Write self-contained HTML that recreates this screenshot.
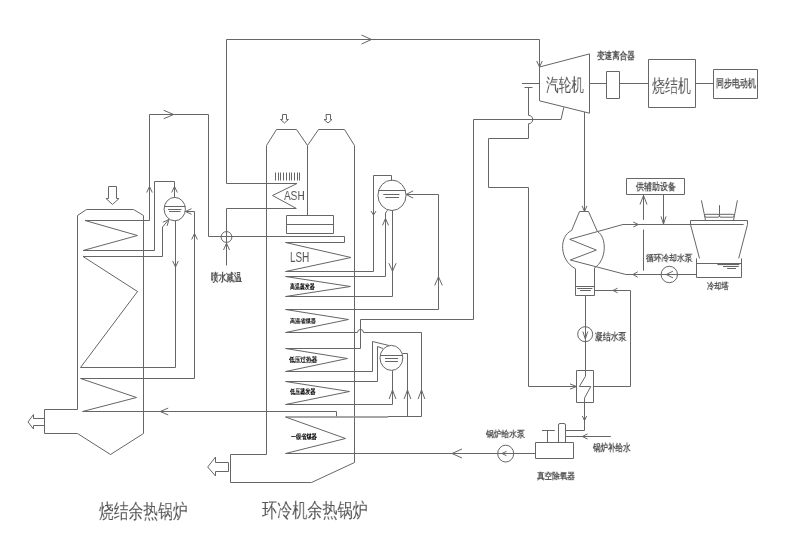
<!DOCTYPE html>
<html><head><meta charset="utf-8"><style>
html,body{margin:0;padding:0;background:#fff;width:789px;height:533px;overflow:hidden}
body{position:relative;font-family:"Liberation Sans",sans-serif}
svg{position:absolute;left:0;top:0}
</style></head><body>
<svg width="789" height="533" viewBox="0 0 789 533" fill="none" stroke="#666" stroke-width="1">
<polyline points="226.50,183.50 226.50,39.50 539.50,39.50 539.50,67.00"/>
<polyline points="361.50,35.00 371.50,39.50 361.50,44.00"/>
<polyline points="536.70,61.00 539.50,67.00 542.30,61.00"/>
<polyline points="226.50,183.50 297.00,183.50"/>
<polyline points="77.50,409.50 77.50,215.50 86.50,209.50 133.50,209.50 143.50,215.50 143.50,433.50 110.50,454.50 77.50,433.50 44.50,433.50 44.50,409.50 77.50,409.50"/>
<polygon points="44.50,418.50 33.50,418.50 33.50,414.50 28.00,422.00 33.50,429.00 33.50,425.50 44.50,425.50"/>
<polygon points="108.50,186.50 116.50,186.50 116.50,198.50 119.00,198.50 112.50,204.50 106.00,198.50 108.50,198.50"/>
<polyline points="149.50,114.50 149.50,220.50 85.00,220.50 137.50,235.50 83.00,250.50 154.50,250.50 154.50,181.50 174.50,181.50 174.50,197.30"/>
<polyline points="146.70,192.50 149.50,186.50 152.30,192.50"/>
<polyline points="171.70,192.50 174.50,186.50 177.30,192.50"/>
<polyline points="149.50,114.50 208.50,114.50 208.50,236.50"/>
<polyline points="163.70,110.30 173.70,114.50 163.70,118.70"/>
<polyline points="168.90,219.50 162.50,227.00 162.50,256.50 83.00,256.50 137.50,291.50 80.50,367.50 175.50,367.50 175.50,220.80"/>
<polyline points="167.15,225.89 168.90,219.50 162.88,222.26"/>
<polyline points="172.70,261.00 175.50,267.00 178.30,261.00"/>
<polyline points="185.50,211.50 194.50,211.50 194.50,378.50 80.50,378.50 136.50,397.50 82.50,411.50 336.50,411.50 336.50,416.50"/>
<polyline points="191.50,208.70 185.50,211.50 191.50,214.30"/>
<polyline points="191.70,239.50 194.50,233.50 197.30,239.50"/>
<polyline points="168.20,408.10 160.20,411.50 168.20,414.90"/>
<ellipse cx="174.75" cy="209.1" rx="10.65" ry="11.7"/>
<polyline points="164.50,206.50 185.50,206.50"/>
<polyline points="168.00,209.50 181.50,209.50"/>
<polyline points="169.00,211.50 180.50,211.50"/>
<ellipse cx="226.5" cy="237" rx="5.4" ry="5.4"/>
<polyline points="208.50,236.50 344.50,236.50 344.50,242.50 285.50,242.50"/>
<polyline points="226.50,265.50 226.50,208.50 296.00,208.50"/>
<polyline points="223.50,250.00 226.50,243.20 229.50,250.00"/>
<polyline points="266.50,454.50 266.50,145.50 276.50,129.50 296.50,129.50 307.50,145.50 318.50,129.50 344.50,129.50 354.50,145.50 354.50,462.50 311.50,482.50 230.50,482.50 230.50,454.50 266.50,454.50"/>
<polyline points="307.50,145.50 307.50,215.50"/>
<polygon points="215.50,462.50 228.50,462.50 228.50,471.50 215.50,471.50 215.50,476.00 207.70,467.00 215.50,457.00"/>
<polygon points="282.50,114.50 286.50,114.50 286.50,119.50 288.50,119.50 284.50,123.00 280.50,119.50 282.50,119.50"/>
<polygon points="326.00,114.50 330.50,114.50 330.50,119.50 332.00,119.50 328.00,123.00 324.00,119.50 326.50,119.50"/>
<polyline points="275.50,172.50 275.50,180.50"/>
<polyline points="278.50,172.50 278.50,180.50"/>
<polyline points="280.50,172.50 280.50,180.50"/>
<polyline points="283.50,172.50 283.50,180.50"/>
<polyline points="286.50,172.50 286.50,180.50"/>
<polyline points="289.50,172.50 289.50,180.50"/>
<polyline points="291.50,172.50 291.50,180.50"/>
<polyline points="294.50,172.50 294.50,180.50"/>
<polyline points="297.50,172.50 297.50,180.50"/>
<polyline points="299.50,172.50 299.50,180.50"/>
<polyline points="297.00,183.50 272.50,195.50 296.50,208.50"/>
<polygon points="286.50,215.50 333.50,215.50 333.50,233.50 286.50,233.50"/>
<polyline points="286.50,224.50 333.50,224.50"/>
<polyline points="285.50,242.50 351.00,257.50 285.50,271.50 373.50,271.50 373.50,175.50 391.50,175.50 391.50,180.70"/>
<polyline points="371.00,211.00 373.50,215.00 376.00,211.00"/>
<polyline points="387.50,210.30 385.50,213.00 385.50,276.50 285.50,276.50 350.50,286.50 285.50,296.50 392.50,296.50 392.50,210.00"/>
<polyline points="382.50,225.40 385.50,218.40 388.50,225.40"/>
<polyline points="388.90,263.20 392.50,271.20 396.10,263.20"/>
<polyline points="406.10,194.50 438.50,194.50 438.50,309.50 285.50,309.50 348.50,319.50 285.50,332.50 357.50,332.50"/>
<polyline points="363.50,332.50 421.50,332.50 421.50,416.50"/>
<path d="M357.5,332.5 A3,3 0 0 1 363.5,332.5"/>
<polyline points="413.10,190.90 406.10,194.50 413.10,198.10"/>
<polyline points="434.70,285.40 438.50,276.80 442.30,285.40"/>
<polyline points="473.50,119.50 473.50,319.50 360.50,319.50 360.50,348.50 285.50,348.50 347.50,358.50 285.50,371.50 372.50,371.50 372.50,341.50 389.00,345.50"/>
<polyline points="383.00,348.50 377.50,346.50 377.50,381.50 285.50,381.50 349.50,391.50 285.50,404.50 392.50,404.50 392.50,370.40"/>
<polyline points="389.10,399.00 392.50,390.00 395.90,399.00"/>
<polyline points="402.50,353.50 407.50,353.50 407.50,416.50"/>
<polyline points="388.00,416.50 421.50,416.50"/>
<line x1="285.5" y1="417" x2="388" y2="417" stroke="#888" stroke-width="1.3"/>
<polyline points="404.10,399.00 407.50,390.00 410.90,399.00"/>
<polyline points="418.10,399.00 421.50,390.00 424.90,399.00"/>
<polyline points="285.50,417.00 345.50,438.50 285.50,453.50 535.50,453.50"/>
<polyline points="462.00,449.00 452.00,453.50 462.00,458.00"/>
<ellipse cx="392" cy="195.3" rx="14.05" ry="15.2"/>
<polyline points="378.30,190.50 405.70,190.50"/>
<polyline points="383.30,194.50 399.50,194.50"/>
<polyline points="385.30,197.50 399.00,197.50"/>
<ellipse cx="391.4" cy="357.9" rx="11.4" ry="12.5"/>
<polyline points="380.30,355.50 402.70,355.50"/>
<polyline points="385.00,358.50 398.00,358.50"/>
<polyline points="385.00,361.50 398.00,361.50"/>
<polygon points="539.50,67.00 589.50,53.90 589.50,113.20 539.50,100.80"/>
<polyline points="522.00,83.50 539.50,83.50"/>
<polyline points="524.50,87.50 532.50,87.50"/>
<polyline points="528.50,87.50 528.50,115.30"/>
<path d="M528.5,115.3 A4.25,4.25 0 0 1 528.5,123.8"/>
<polyline points="528.50,123.80 528.50,138.50 488.50,138.50 488.50,187.50 528.50,187.50 528.50,386.50 576.50,386.50"/>
<polyline points="570.00,383.90 576.50,386.50 570.00,389.10"/>
<polyline points="473.50,119.50 561.00,119.50 563.80,107.30"/>
<polyline points="589.50,83.50 606.50,83.50"/>
<polygon points="606.50,71.50 619.50,71.50 619.50,98.50 606.50,98.50"/>
<polyline points="619.50,83.50 648.50,83.50"/>
<polygon points="648.50,59.50 695.50,59.50 695.50,107.50 648.50,107.50"/>
<polyline points="695.50,83.50 713.50,83.50"/>
<polygon points="713.50,69.50 757.50,69.50 757.50,98.50 713.50,98.50"/>
<polyline points="584.50,112.00 584.50,211.50"/>
<polyline points="582.10,205.90 584.50,211.50 586.90,205.90"/>
<path d="M579.5,211.5 L588.5,211.5 L597.3,231.4 C607,237 607,260 594.5,267.9 L594.5,295.5 L575.5,295.5 L575.5,268.8 C559,260 559,236 571.7,230.4 Z"/>
<polyline points="575.50,286.50 594.50,286.50"/>
<polyline points="577.20,288.50 592.40,288.50"/>
<polyline points="580.00,290.50 590.90,290.50"/>
<polyline points="743.60,224.50 622.90,224.50 569.70,239.30 596.30,250.10 570.30,260.00 625.80,274.50 696.50,274.50"/>
<polyline points="633.30,222.00 638.30,224.50 633.30,227.00"/>
<polyline points="637.70,271.80 633.00,274.50 637.70,277.20"/>
<ellipse cx="669.3" cy="274.5" rx="8.2" ry="8.2"/>
<polyline points="672.90,271.20 666.20,274.50 672.90,277.80"/>
<polygon points="626.50,178.50 684.50,178.50 684.50,194.50 626.50,194.50"/>
<polyline points="643.50,270.70 643.50,229.60"/>
<polyline points="643.50,219.90 643.50,195.00"/>
<polyline points="640.00,204.50 643.50,195.50 647.00,204.50"/>
<polyline points="663.50,194.50 663.50,224.50"/>
<polyline points="661.00,216.40 663.50,224.00 666.00,216.40"/>
<polyline points="690.50,224.50 690.50,220.50 747.50,220.50 747.50,224.50 738.70,258.40"/>
<polyline points="690.50,224.50 699.50,258.40"/>
<polyline points="696.50,258.40 696.50,277.50 741.50,277.50 741.50,258.40"/>
<polyline points="696.50,263.50 741.50,263.50"/>
<line x1="717.4" y1="264.5" x2="739.4" y2="264.5" stroke-width="1.2"/>
<polyline points="723.00,266.50 738.70,266.50"/>
<polyline points="727.10,268.50 736.00,268.50"/>
<polyline points="701.40,200.30 704.50,215.20 705.50,220.50"/>
<polyline points="737.40,200.30 734.50,215.20 733.50,220.50"/>
<polyline points="719.50,205.20 719.50,216.30"/>
<rect x="704.7" y="214.3" width="14.7" height="2.9" rx="1.4"/>
<rect x="719.5" y="214.3" width="14.7" height="2.9" rx="1.4"/>
<polyline points="594.50,290.50 630.50,290.50 630.50,386.50 593.50,386.50"/>
<polyline points="617.60,288.20 613.00,290.50 617.60,292.80"/>
<polyline points="585.50,295.50 585.50,370.50"/>
<ellipse cx="585.2" cy="334.2" rx="7.5" ry="7.5"/>
<polyline points="582.90,331.60 585.30,339.00 587.70,331.60"/>
<polygon points="576.50,370.50 593.50,370.50 593.50,402.50 576.50,402.50"/>
<polyline points="585.50,370.50 585.50,376.20 579.40,386.50 590.80,386.50 584.50,398.10 584.50,402.50"/>
<polyline points="584.50,402.50 584.50,430.50 565.50,430.50"/>
<polyline points="582.30,416.00 584.50,420.60 586.70,416.00"/>
<polygon points="535.50,442.50 573.50,442.50 573.50,458.50 535.50,458.50"/>
<path d="M558.5,442.5 L558.5,425 Q558.5,423.5 560,423.5 L564,423.5 Q565.5,423.5 565.5,425 L565.5,442.5"/>
<polyline points="547.50,442.50 547.50,430.50"/>
<polyline points="542.00,430.50 554.80,430.50"/>
<polyline points="565.50,436.50 610.80,436.50"/>
<polyline points="587.60,433.90 582.30,436.50 587.60,439.10"/>
<ellipse cx="505.7" cy="453.6" rx="8.0" ry="8.4"/>
<polyline points="506.50,451.30 502.00,453.50 506.50,455.70"/>
</svg>
<div style="position:absolute;left:210.60px;top:271.84px;font-size:11.03px;line-height:1;white-space:nowrap;transform-origin:0 0;transform:scaleX(0.694);will-change:transform;color:#555;font-weight:bold">喷水减温</div><div style="position:absolute;left:283.85px;top:188.80px;font-size:13.68px;line-height:1;white-space:nowrap;transform-origin:0 0;transform:scaleX(0.734);will-change:transform;color:#555;font-weight:normal">ASH</div><div style="position:absolute;left:289.73px;top:250.31px;font-size:14.94px;line-height:1;white-space:nowrap;transform-origin:0 0;transform:scaleX(0.662);will-change:transform;color:#555;font-weight:normal">LSH</div><div style="position:absolute;left:289.65px;top:282.55px;font-size:7.28px;line-height:1;white-space:nowrap;transform-origin:0 0;transform:scaleX(0.705);will-change:transform;color:#000;font-weight:bold">高温蒸发器</div><div style="position:absolute;left:290.37px;top:318.72px;font-size:5.92px;line-height:1;white-space:nowrap;transform-origin:0 0;transform:scaleX(0.863);will-change:transform;color:#000;font-weight:bold">高温省煤器</div><div style="position:absolute;left:289.16px;top:356.58px;font-size:6.70px;line-height:1;white-space:nowrap;transform-origin:0 0;transform:scaleX(0.807);will-change:transform;color:#000;font-weight:bold">低压过热器</div><div style="position:absolute;left:289.91px;top:387.93px;font-size:7.30px;line-height:1;white-space:nowrap;transform-origin:0 0;transform:scaleX(0.726);will-change:transform;color:#000;font-weight:bold">低压蒸发器</div><div style="position:absolute;left:291.04px;top:433.03px;font-size:7.04px;line-height:1;white-space:nowrap;transform-origin:0 0;transform:scaleX(0.735);will-change:transform;color:#000;font-weight:bold">一级省煤器</div><div style="position:absolute;left:546.15px;top:76.21px;font-size:18.08px;line-height:1;white-space:nowrap;transform-origin:0 0;transform:scaleX(0.703);will-change:transform;color:#555;font-weight:normal">汽轮机</div><div style="position:absolute;left:597.10px;top:50.61px;font-size:10.33px;line-height:1;white-space:nowrap;transform-origin:0 0;transform:scaleX(0.755);will-change:transform;color:#555;font-weight:bold">变速离合器</div><div style="position:absolute;left:651.84px;top:76.61px;font-size:18.15px;line-height:1;white-space:nowrap;transform-origin:0 0;transform:scaleX(0.722);will-change:transform;color:#555;font-weight:normal">烧结机</div><div style="position:absolute;left:715.94px;top:77.99px;font-size:10.99px;line-height:1;white-space:nowrap;transform-origin:0 0;transform:scaleX(0.725);will-change:transform;color:#555;font-weight:bold">同步电动机</div><div style="position:absolute;left:636.11px;top:181.60px;font-size:10.21px;line-height:1;white-space:nowrap;transform-origin:0 0;transform:scaleX(0.798);will-change:transform;color:#555;font-weight:bold">供辅助设备</div><div style="position:absolute;left:645.58px;top:253.61px;font-size:9.20px;line-height:1;white-space:nowrap;transform-origin:0 0;transform:scaleX(0.860);will-change:transform;color:#555;font-weight:bold">循环冷却水泵</div><div style="position:absolute;left:706.75px;top:281.41px;font-size:9.48px;line-height:1;white-space:nowrap;transform-origin:0 0;transform:scaleX(0.802);will-change:transform;color:#555;font-weight:bold">冷却塔</div><div style="position:absolute;left:594.57px;top:332.18px;font-size:9.83px;line-height:1;white-space:nowrap;transform-origin:0 0;transform:scaleX(0.783);will-change:transform;color:#555;font-weight:bold">凝结水泵</div><div style="position:absolute;left:485.64px;top:429.54px;font-size:9.20px;line-height:1;white-space:nowrap;transform-origin:0 0;transform:scaleX(0.864);will-change:transform;color:#555;font-weight:bold">锅炉给水泵</div><div style="position:absolute;left:592.83px;top:443.40px;font-size:10.20px;line-height:1;white-space:nowrap;transform-origin:0 0;transform:scaleX(0.752);will-change:transform;color:#555;font-weight:bold">锅炉补给水</div><div style="position:absolute;left:536.50px;top:471.74px;font-size:9.29px;line-height:1;white-space:nowrap;transform-origin:0 0;transform:scaleX(0.845);will-change:transform;color:#555;font-weight:bold">真空除氧器</div><div style="position:absolute;left:98.50px;top:500.77px;font-size:20.26px;line-height:1;white-space:nowrap;transform-origin:0 0;transform:scaleX(0.738);will-change:transform;color:#555;font-weight:normal">烧结余热锅炉</div><div style="position:absolute;left:262.40px;top:500.60px;font-size:19.52px;line-height:1;white-space:nowrap;transform-origin:0 0;transform:scaleX(0.755);will-change:transform;color:#555;font-weight:normal">环冷机余热锅炉</div>
</body></html>
